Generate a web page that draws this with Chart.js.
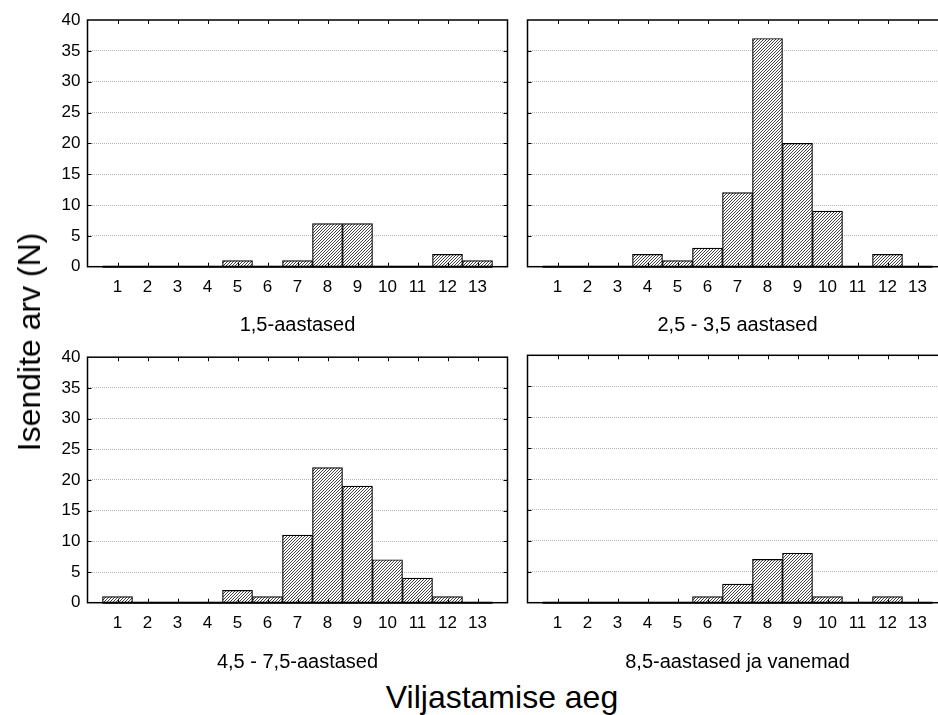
<!DOCTYPE html>
<html>
<head>
<meta charset="utf-8">
<script src="https://cdn.jsdelivr.net/npm/chart.js@4.4.0/dist/chart.umd.min.js"></script>
<style>
  html, body { margin: 0; padding: 0; background: #fff; width: 938px; height: 715px; overflow: hidden; }
  canvas { position: absolute; }
  .axis-title {
    position: absolute;
    font-family: 'Liberation Sans', Arial, sans-serif;
    font-size: 32px;
    line-height: 32px;
    color: #000;
    white-space: nowrap;
  }
</style>
</head>
<body>
<canvas id="c1" width="515" height="340" style="left:0;top:0"></canvas>
<canvas id="c2" width="445" height="340" style="left:515px;top:0"></canvas>
<canvas id="c3" width="515" height="337" style="left:0;top:340px"></canvas>
<canvas id="c4" width="445" height="337" style="left:515px;top:340px"></canvas>
<div class="axis-title" style="left:29px;top:342px;transform:translate(-50%,-50%) rotate(-90deg)">Isendite arv (N)</div>
<div class="axis-title" style="left:502px;top:697px;transform:translate(-50%,-50%)">Viljastamise aeg</div>

<script>
// months of maturation (x), counts per age group (y)
const months    = [1, 2, 3, 4, 5, 6, 7, 8, 9, 10, 11, 12, 13];
const age1_5    = [0, 0, 0, 0, 1, 0, 1, 7, 7, 0, 0, 2, 1];
const age2_5    = [0, 0, 0, 2, 1, 3, 12, 37, 20, 9, 0, 2, 0];
const age4_5    = [1, 0, 0, 0, 2, 1, 11, 22, 19, 7, 4, 1, 0];
const age8_5    = [0, 0, 0, 0, 0, 1, 3, 7, 8, 1, 0, 1, 0];
const groupNames = ['1,5-aastased', '2,5 - 3,5 aastased', '4,5 - 7,5-aastased', '8,5-aastased ja vanemad'];
const yMax  = 40;
const yStep = 5;

const FONT = "'Liberation Sans', Arial, sans-serif";
Chart.defaults.color = '#000';
Chart.defaults.font.family = FONT;

// fine "////" hatching used as bar fill
function hatchFor(canvas) {
  const tile = document.createElement('canvas');
  tile.width = tile.height = 3;
  const g = tile.getContext('2d');
  g.fillStyle = '#fff';
  g.fillRect(0, 0, 3, 3);
  g.fillStyle = '#444';
  for (let i = 0; i < 3; i++) g.fillRect(i, 2 - i, 1, 1);
  return canvas.getContext('2d').createPattern(tile, 'repeat');
}

// box round the plot, inward tick marks and the zero line under the bars
const framePlugin = {
  id: 'frame',
  afterDatasetsDraw(chart) {
    const { ctx, chartArea: a, scales: { x, y } } = chart;
    ctx.save();
    ctx.strokeStyle = '#000';

    ctx.lineWidth = 2;
    ctx.beginPath();
    ctx.moveTo(x.getPixelForValue(months[0] - 0.5), y.getPixelForValue(0));
    ctx.lineTo(x.getPixelForValue(months[months.length - 1] + 0.5), y.getPixelForValue(0));
    ctx.stroke();

    ctx.lineWidth = 1;
    ctx.beginPath();
    months.forEach(m => {
      const px = Math.round(x.getPixelForValue(m)) + 0.5;
      ctx.moveTo(px, a.top); ctx.lineTo(px, a.top + 4);
      ctx.moveTo(px, a.bottom); ctx.lineTo(px, a.bottom - 4);
    });
    for (let v = yStep; v < yMax; v += yStep) {
      const py = Math.round(y.getPixelForValue(v)) + 0.5;
      ctx.moveTo(a.left, py); ctx.lineTo(a.left + 4, py);
      ctx.moveTo(a.right, py); ctx.lineTo(a.right - 4, py);
    }
    ctx.stroke();

    ctx.lineWidth = 1.5;
    ctx.strokeRect(a.left, a.top, a.right - a.left, a.bottom - a.top);
    ctx.restore();
  }
};

function drawPanel(id, values, title, showY, padTop, xAxisH) {
  const canvas = document.getElementById(id);
  return new Chart(canvas, {
    type: 'bar',
    data: {
      datasets: [{
        data: months.map((m, i) => ({ x: m, y: values[i] })),
        backgroundColor: hatchFor(canvas),
        borderColor: '#000',
        borderWidth: 1.2,
        barPercentage: 1,
        categoryPercentage: 1,
      }]
    },
    options: {
      responsive: false,
      animation: false,
      layout: { padding: { top: padTop, right: showY ? 7.5 : 12.5, left: 0, bottom: 0 } },
      plugins: { legend: { display: false }, tooltip: { enabled: false } },
      scales: {
        x: {
          type: 'linear',
          offset: false,
          min: months[0] - 1,
          max: months[months.length - 1] + 1,
          grid: { display: false, drawTicks: false },
          border: { display: false },
          ticks: {
            stepSize: 1,
            padding: 10,
            font: { size: 17 },
            callback: v => (v >= months[0] && v <= months[months.length - 1]) ? v : ''
          },
          title: { display: true, text: title, font: { size: 20 }, padding: { top: 0, bottom: 3 } },
          afterFit: s => { s.height = xAxisH; s.paddingLeft = 0; s.paddingRight = 0; }
        },
        y: {
          min: 0,
          max: yMax,
          grid: {
            drawTicks: false,
            color: c => (c.tick.value === 0 || c.tick.value === yMax) ? 'rgba(0,0,0,0)' : '#b4b4b4',
            lineWidth: 1
          },
          border: { display: false, dash: [1, 1] },
          ticks: { display: showY, stepSize: yStep, padding: 7, font: { size: 17 } },
          afterFit: s => { s.width = showY ? 87.5 : 12.5; }
        }
      }
    },
    plugins: [framePlugin]
  });
}

drawPanel('c1', age1_5, groupNames[0], true, 20, 73.3);
drawPanel('c2', age2_5, groupNames[1], false, 20, 73.3);
drawPanel('c3', age4_5, groupNames[2], true, 15.3, 74.3);
drawPanel('c4', age8_5, groupNames[3], false, 15.3, 74.3);
</script>
</body>
</html>
